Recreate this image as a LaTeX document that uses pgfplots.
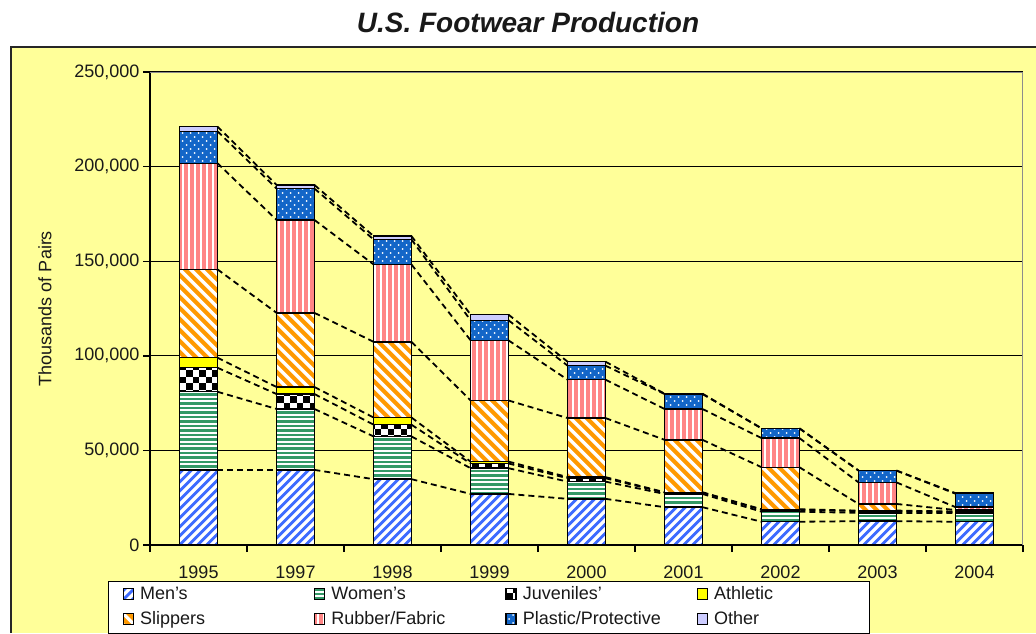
\documentclass[border=0pt]{standalone}
\usepackage{fontspec}
\setmainfont{Liberation Sans}
\usepackage{pgfplots}
\usepackage{pgfplotstable}
\pgfplotsset{compat=1.18}

% ---- colours ---------------------------------------------------------
\definecolor{chartbg}{HTML}{FFFF99}
\definecolor{menblue}{HTML}{3D6BFF}
\definecolor{womengreen}{HTML}{339966}
\definecolor{athyellow}{HTML}{FFFF00}
\definecolor{slipperorange}{HTML}{FF9900}
\definecolor{rubberpink}{HTML}{FF8585}
\definecolor{plasticblue}{HTML}{1366C8}
\definecolor{otherlav}{HTML}{CCCCFF}

% inner strokes of a hatch must not repeat the hatch themselves
\tikzset{plain/.style={path picture={}, draw=none, fill=none}}

% size of the current path picture (in pt, without unit)
\newcommand\ppdims{%
  \path[plain] (path picture bounding box.south west); \pgfgetlastxy\ppxa\ppya
  \path[plain] (path picture bounding box.north east); \pgfgetlastxy\ppxb\ppyb
  \pgfmathsetmacro\ppw{\ppxb-\ppxa}\pgfmathsetmacro\pph{\ppyb-\ppya}}

% hatched fills, drawn as clipped strokes inside each bar
\tikzset{
  men fill/.style={fill=white, path picture={\ppdims
    \pgfmathtruncatemacro\kmin{-\pph/9-2}\pgfmathtruncatemacro\kmax{\ppw/9+2}%
    \foreach \k in {\kmin,...,\kmax}{\draw[plain, draw=menblue, line width=2.8pt]
      ([xshift=\k*9pt]path picture bounding box.south west) ++(-2pt,-2pt) -- ++(\pph pt+4pt,\pph pt+4pt);}}},
  slipper fill/.style={fill=slipperorange, path picture={\ppdims
    \pgfmathtruncatemacro\kmin{-\pph/11-2}\pgfmathtruncatemacro\kmax{\ppw/11+2}%
    \foreach \k in {\kmin,...,\kmax}{\draw[plain, draw=white, line width=3.2pt]
      ([xshift=\k*11pt]path picture bounding box.north west) ++(-2pt,2pt) -- ++(\pph pt+4pt,-\pph pt-4pt);}}},
  women fill/.style={fill=white, path picture={\ppdims
    \pgfmathtruncatemacro\kmax{\pph/4.5+1}%
    \foreach \k in {0,...,\kmax}{\path[plain, fill=womengreen]
      ([yshift=\k*4.5pt]path picture bounding box.south west) ++(-1pt,0pt) rectangle ++(\ppw pt+2pt,2.6pt);}}},
  rubber fill/.style={fill=rubberpink, path picture={\ppdims
    \pgfmathtruncatemacro\kmax{\ppw/6+1}%
    \foreach \k in {0,...,\kmax}{\path[plain, fill=white]
      ([xshift=\k*6pt+2pt]path picture bounding box.south west) ++(0pt,-1pt) rectangle ++(2pt,\pph pt+2pt);}}},
  plastic fill/.style={fill=plasticblue, path picture={\ppdims
    \pgfmathtruncatemacro\kmax{\pph/4+1}%
    \foreach \k in {0,...,\kmax}{\pgfmathsetmacro\ph{mod(\k,2)*4}%
      \draw[plain, draw=white, line width=2pt, line cap=round, dash pattern=on 0.1pt off 7.9pt, dash phase=\ph pt]
      ([yshift=\k*4pt+2pt]path picture bounding box.south west) ++(-1pt,0pt) -- ++(\ppw pt+2pt,0pt);}}},
  juv fill/.style={fill=white, path picture={\ppdims
    \pgfmathtruncatemacro\kmax{\pph/6.5+1}%
    \foreach \k in {0,...,\kmax}{\pgfmathsetmacro\ph{mod(\k,2)*6.5}%
      \draw[plain, draw=black, line width=6.5pt, dash pattern=on 6.5pt off 6.5pt, dash phase=\ph pt]
      ([yshift=\k*6.5pt+3.25pt]path picture bounding box.south west) -- ++(\ppw pt+2pt,0pt);}}},
}

% ---- production, thousands of pairs ----------------------------------
\pgfplotstableread{
year men   women juv   ath  slip  rub   plast other
1995 39700 41300 12700 5300 46700 56100 16900 2500
1997 39700 32200 7900  3700 39200 49100 16600 1900
1998 34800 22600 6200  3800 40000 40900 13200 1800
1999 27000 13600 2500  1000 32300 31800 10600 3000
2000 24400 9100  1800  600  31200 20300 7400  2100
2001 20000 7000  700   200  27700 16300 7900  200
2002 12300 5300  1000  300  22200 15400 5100  100
2003 12600 4400  900   300  3500  11400 6200  100
2004 12300 4600  600   200  800   1500  7100  300
}\footwear

% running totals (tops of the stacked segments)
\pgfplotstablecreatecol[expr={\thisrow{men}}]{c1}\footwear
\pgfplotstablecreatecol[expr={\thisrow{c1}+\thisrow{women}}]{c2}\footwear
\pgfplotstablecreatecol[expr={\thisrow{c2}+\thisrow{juv}}]{c3}\footwear
\pgfplotstablecreatecol[expr={\thisrow{c3}+\thisrow{ath}}]{c4}\footwear
\pgfplotstablecreatecol[expr={\thisrow{c4}+\thisrow{slip}}]{c5}\footwear
\pgfplotstablecreatecol[expr={\thisrow{c5}+\thisrow{rub}}]{c6}\footwear
\pgfplotstablecreatecol[expr={\thisrow{c6}+\thisrow{plast}}]{c7}\footwear
\pgfplotstablecreatecol[expr={\thisrow{c7}+\thisrow{other}}]{c8}\footwear
% change of each total to the next year (for the series lines)
\pgfplotstablecreatecol[expr={\nextrow{c1}-\thisrow{c1}}]{d1}\footwear
\pgfplotstablecreatecol[expr={\nextrow{c2}-\thisrow{c2}}]{d2}\footwear
\pgfplotstablecreatecol[expr={\nextrow{c3}-\thisrow{c3}}]{d3}\footwear
\pgfplotstablecreatecol[expr={\nextrow{c4}-\thisrow{c4}}]{d4}\footwear
\pgfplotstablecreatecol[expr={\nextrow{c5}-\thisrow{c5}}]{d5}\footwear
\pgfplotstablecreatecol[expr={\nextrow{c6}-\thisrow{c6}}]{d6}\footwear
\pgfplotstablecreatecol[expr={\nextrow{c7}-\thisrow{c7}}]{d7}\footwear
\pgfplotstablecreatecol[expr={\nextrow{c8}-\thisrow{c8}}]{d8}\footwear

\newcommand\txtfont{\fontsize{18}{20}\selectfont}
\newcommand\entry[1]{\makebox[135pt][l]{#1}}

\pgfplotsset{
  common frame/.style={
    at={(150pt,-545pt)}, anchor=south west,
    scale only axis, width=873pt, height=473pt,
    xmin=-0.5, xmax=8.5, ymin=0, ymax=250000,
  },
  seg/.style={draw=black, line width=1.4pt, #1},
  series line/.style={black, line width=1.8pt, dash pattern=on 6pt off 4pt,
    skip coords between index={8}{9}},
}

\begin{document}
\begin{tikzpicture}
\fill[white] (0pt,0pt) rectangle (1036pt,-633pt);
\path[use as bounding box] (0pt,0pt) rectangle (1036pt,-633pt);
\fill[chartbg] (11pt,-47pt) rectangle (1036pt,-633pt);
\draw[line width=2pt, black!85] (11pt,-633pt) -- (11pt,-47pt) -- (1036pt,-47pt);
\node[font=\bfseries\itshape\fontsize{28}{32}\selectfont, text=black!90] at (528pt,-22pt) {U.S. Footwear Production};

\begin{axis}[
  common frame,
  ybar stacked, bar width=0.39,
  axis x line*=bottom, axis y line*=left,
  axis line style={line width=1.5pt, black},
  xtick={-0.5,0.5,...,8.5}, x tick label as interval,
  xticklabels={1995,1997,1998,1999,2000,2001,2002,2003,2004},
  ytick={0,50000,...,250000},
  ymajorgrids, grid style={black, line width=1.2pt},
  tick align=outside, major tick length=7pt,
  tick style={black, line width=1.4pt},
  scaled y ticks=false,
  yticklabel style={/pgf/number format/.cd, fixed, 1000 sep={,}, assume math mode=true},
  tick label style={font=\txtfont, text=black!90},
  xticklabel style={yshift=-10pt},
  ylabel={Thousands of Pairs},
  every axis y label/.style={at={(axis description cs:-0.1203,0.5)}, rotate=90, anchor=center, font=\txtfont, text=black!90},
  legend columns=4,
  legend cell align=left,
  legend image code/.code={\draw[#1] (0pt,-5pt) rectangle (10pt,6pt);},
  legend style={at={(axis description cs:-0.0481,-0.0751)}, anchor=north west,
    draw=black, line width=1.2pt, fill=white, font=\txtfont, text=black!90,
    inner xsep=14pt, inner ysep=4pt, row sep=6pt,
    nodes={inner xsep=6pt, inner ysep=1pt, text height=13pt, text depth=4pt},
    /tikz/every even column/.append style={column sep=33pt}},
]
\addplot[seg={men fill}]     table[x expr=\coordindex, y=men]{\footwear};
\addlegendentry{\entry{Men's}}
\addplot[seg={women fill}]   table[x expr=\coordindex, y=women]{\footwear};
\addlegendentry{\entry{Women's}}
\addplot[seg={juv fill}]     table[x expr=\coordindex, y=juv]{\footwear};
\addlegendentry{\entry{Juveniles'}}
\addplot[seg={fill=athyellow}] table[x expr=\coordindex, y=ath]{\footwear};
\addlegendentry{\entry{Athletic}}
\addplot[seg={slipper fill}] table[x expr=\coordindex, y=slip]{\footwear};
\addlegendentry{\entry{Slippers}}
\addplot[seg={rubber fill}]  table[x expr=\coordindex, y=rub]{\footwear};
\addlegendentry{\entry{Rubber/Fabric}}
\addplot[seg={plastic fill}] table[x expr=\coordindex, y=plast]{\footwear};
\addlegendentry{\entry{Plastic/Protective}}
\addplot[seg={fill=otherlav}] table[x expr=\coordindex, y=other]{\footwear};
\addlegendentry{\entry{Other}}
% plot-area frame: top and right edges in grey
\draw[black!45, line width=1.8pt] (rel axis cs:0,1) -- (rel axis cs:1,1) -- (rel axis cs:1,0);
\end{axis}

% series lines joining the segment tops of neighbouring columns
\begin{axis}[common frame, hide axis]
\addplot[series line, quiver={u=0.61, v=\thisrow{d1}}] table[x expr=\coordindex+0.195, y=c1]{\footwear};
\addplot[series line, quiver={u=0.61, v=\thisrow{d2}}] table[x expr=\coordindex+0.195, y=c2]{\footwear};
\addplot[series line, quiver={u=0.61, v=\thisrow{d3}}] table[x expr=\coordindex+0.195, y=c3]{\footwear};
\addplot[series line, quiver={u=0.61, v=\thisrow{d4}}] table[x expr=\coordindex+0.195, y=c4]{\footwear};
\addplot[series line, quiver={u=0.61, v=\thisrow{d5}}] table[x expr=\coordindex+0.195, y=c5]{\footwear};
\addplot[series line, quiver={u=0.61, v=\thisrow{d6}}] table[x expr=\coordindex+0.195, y=c6]{\footwear};
\addplot[series line, quiver={u=0.61, v=\thisrow{d7}}] table[x expr=\coordindex+0.195, y=c7]{\footwear};
\addplot[series line, quiver={u=0.61, v=\thisrow{d8}}] table[x expr=\coordindex+0.195, y=c8]{\footwear};
\end{axis}
\end{tikzpicture}
\end{document}
